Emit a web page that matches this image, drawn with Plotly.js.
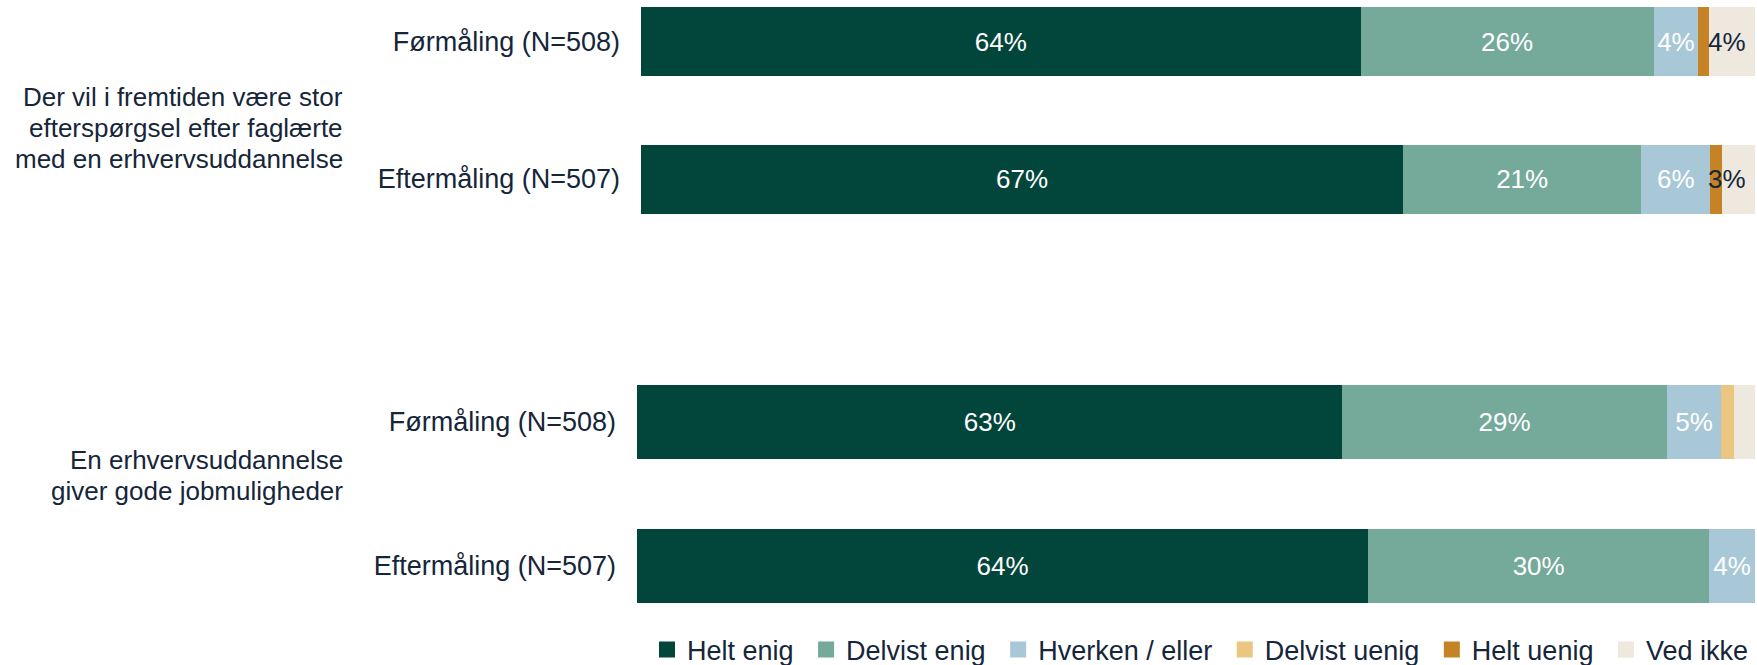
<!DOCTYPE html>
<html>
<head>
<meta charset="utf-8">
<script src="https://cdn.plot.ly/plotly-3.0.1.min.js"></script>
<style>html,body{margin:0;padding:0;background:#fff;}#chart{width:1757px;height:665px;}</style>
</head>
<body>
<div id="chart"></div>
<script>
// Rows: [statement 1 Førmåling, statement 1 Eftermåling, statement 2 Førmåling, statement 2 Eftermåling]
const waves = ['Førmåling (N=508)', 'Eftermåling (N=507)', 'Førmåling (N=508)', 'Eftermåling (N=507)'];
const statementOfRow = [0, 0, 1, 1];
const statement1Lines = ['Der vil i fremtiden være stor', 'efterspørgsel efter faglærte', 'med en erhvervsuddannelse'];
const statement2Lines = ['En erhvervsuddannelse', 'giver gode jobmuligheder'];
const seriesNames = ['Helt enig', 'Delvist enig', 'Hverken / eller', 'Delvist uenig', 'Helt uenig', 'Ved ikke'];

const heltEnig     = [64.6, 68.4, 63.1, 65.4];
const delvistEnig  = [26.3, 21.4, 29.0, 30.5];
const hverkenEller = [4.0, 6.2, 4.9, 4.1];
const delvistUenig = [0.0, 0.0, 1.1, 0.0];
const heltUenig    = [1.0, 1.0, 0.0, 0.0];
const vedIkke      = [4.1, 3.0, 1.9, 0.0];

const heltEnigLbl     = ['64%', '67%', '63%', '64%'];
const delvistEnigLbl  = ['26%', '21%', '29%', '30%'];
const hverkenEllerLbl = ['4%', '6%', '5%', '4%'];
const delvistUenigLbl = ['', '', '', ''];
const heltUenigLbl    = ['', '', '', ''];
const vedIkkeLbl      = ['4%', '3%', '', ''];   // drawn right-aligned at the bar end

const seriesValues = [heltEnig, delvistEnig, hverkenEller, delvistUenig, heltUenig, vedIkke];
const seriesLabels = [heltEnigLbl, delvistEnigLbl, hverkenEllerLbl, delvistUenigLbl, heltUenigLbl, null];
const colors = ['#02453A', '#75A99A', '#A8C8D8', '#EBC680', '#C58326', '#EEE8DF'];
const textColors = ['#FFFFFF', '#FFFFFF', '#FFFFFF', '#15263A', '#FFFFFF', '#15263A'];

const FONT = 'Liberation Sans, Arial, sans-serif';
const TXT = '#15263A';
const barWidths = [0.502, 0.514];
const NBSP = '\u00a0';

const rowsOf = s => statementOfRow.map((st, i) => st === s ? i : -1).filter(i => i >= 0);
const rowTotal = i => Math.round(seriesValues.reduce((a, v) => a + v[i], 0) * 1000) / 1000;

const traces = [];
seriesNames.forEach((name, k) => {
  [0, 1].forEach(s => {
    const idx = rowsOf(s);
    traces.push({
      type: 'bar',
      orientation: 'h',
      name: name,
      x: idx.map(i => seriesValues[k][i]),
      y: idx.map(i => waves[i]),
      text: idx.map(i => seriesLabels[k] ? seriesLabels[k][i] : ''),
      textposition: 'inside',
      insidetextanchor: 'middle',
      textangle: 0,
      constraintext: 'none',
      cliponaxis: false,
      insidetextfont: {family: FONT, size: 26, color: textColors[k]},
      marker: {color: colors[k], line: {width: 0}},
      width: barWidths[s],
      xaxis: s === 0 ? 'x' : 'x2',
      yaxis: s === 0 ? 'y' : 'y2',
      showlegend: false,
      hoverinfo: 'skip'
    });
  });
});
// legend entries
seriesNames.forEach((name, k) => {
  traces.push({
    type: 'scatter', mode: 'markers', name: name + NBSP,
    x: [null], y: [null], xaxis: 'x', yaxis: 'y',
    marker: {symbol: 'square', size: 16, color: colors[k]},
    showlegend: true, hoverinfo: 'skip'
  });
});

const catOrder = ['Eftermåling (N=507)', 'Førmåling (N=508)'];
const yCommon = {
  type: 'category', categoryorder: 'array', categoryarray: catOrder,
  showgrid: false, zeroline: false, showline: false, ticks: '',
  ticklabelstandoff: 20,
  tickfont: {family: FONT, size: 27, color: TXT}, fixedrange: true
};
const xCommon = {range: [0, 100], visible: false, fixedrange: true};

const annotations = [];
const addLines = (lines, centerPx) => {
  const sp = 31;
  lines.forEach((t, j) => {
    const yPx = centerPx + (j - (lines.length - 1) / 2) * sp;
    annotations.push({text: t, xref: 'paper', yref: 'paper', x: 345/1757, y: 1 - yPx/665,
      xanchor: 'right', yanchor: 'middle', align: 'right', showarrow: false,
      font: {family: FONT, size: 26, color: TXT}});
  });
};
addLines(statement1Lines, 128);
addLines(statement2Lines, 475);
// "Ved ikke" value labels, right-aligned against the end of each bar
waves.forEach((w, i) => {
  if (!vedIkkeLbl[i]) return;
  const s = statementOfRow[i];
  annotations.push({text: vedIkkeLbl[i], xref: s === 0 ? 'x' : 'x2', yref: s === 0 ? 'y' : 'y2',
    x: rowTotal(i), y: w, xanchor: 'right', yanchor: 'middle', xshift: -7, showarrow: false,
    font: {family: FONT, size: 26, color: TXT}});
});

const layout = {
  width: 1757, height: 665,
  margin: {l: 0, r: 0, t: 0, b: 0, autoexpand: false},
  paper_bgcolor: '#FFFFFF', plot_bgcolor: '#FFFFFF',
  barmode: 'stack',
  font: {family: FONT, size: 26, color: TXT},
  xaxis: Object.assign({}, xCommon, {domain: [641/1757, 1755/1757], anchor: 'y'}),
  xaxis2: Object.assign({}, xCommon, {domain: [637/1757, 1755/1757], anchor: 'y2'}),
  yaxis: Object.assign({}, yCommon, {domain: [1 - 260/665, 1], range: [-0.589, 1.302], anchor: 'x'}),
  yaxis2: Object.assign({}, yCommon, {domain: [1 - 620/665, 1 - 300/665], range: [-0.375, 1.847], anchor: 'x2'}),
  showlegend: true,
  legend: {
    orientation: 'h', x: 647/1757, xanchor: 'left', y: 1 - 650/665, yanchor: 'middle',
    font: {family: FONT, size: 27, color: TXT}, bgcolor: 'rgba(0,0,0,0)', traceorder: 'normal'
  },
  annotations: annotations,
  hovermode: false
};

Plotly.newPlot('chart', traces, layout, {displayModeBar: false, staticPlot: true});
</script>
</body>
</html>
